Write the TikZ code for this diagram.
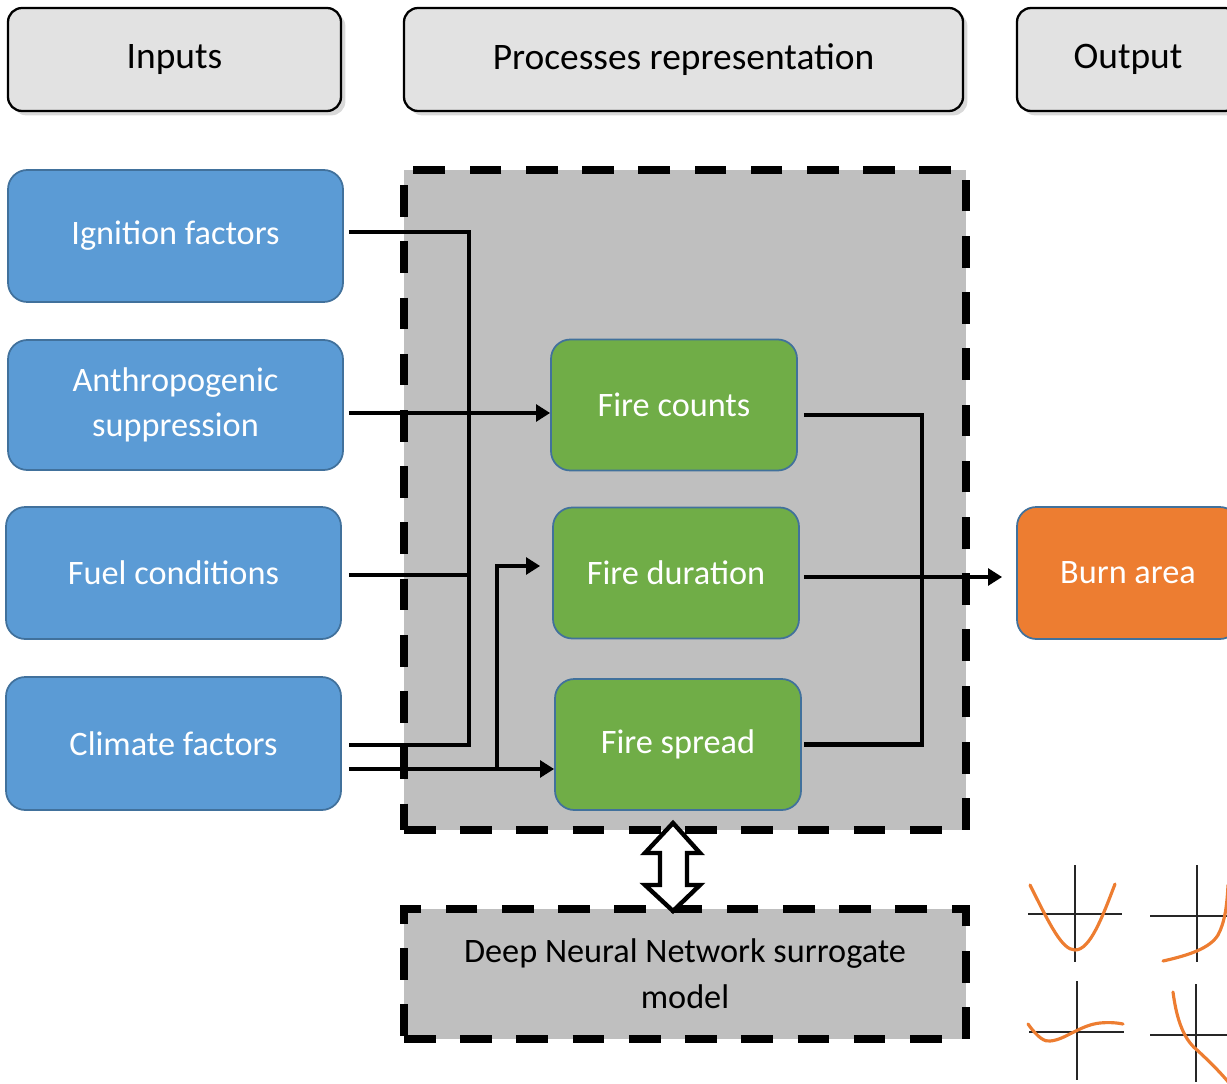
\documentclass[tikz,border=0pt]{standalone}
\usepackage{fontspec}
\setmainfont{Carlito}
\usetikzlibrary{arrows.meta,shadows}
\def\pxu{0.02cm}
\definecolor{inblue}{HTML}{5B9BD5}
\definecolor{edgeblue}{HTML}{41719C}
\definecolor{procgreen}{HTML}{70AD47}
\definecolor{outorange}{HTML}{ED7D31}
\definecolor{headgray}{HTML}{E2E2E2}
\definecolor{boxgray}{HTML}{BFBFBF}
\tikzset{
  header/.style={draw=black, line width=1.3pt, fill=headgray, rounded corners=8pt,
    drop shadow={opacity=0.3, shadow xshift=2.5pt, shadow yshift=-2.5pt},
    font=\fontsize{21.3}{25}\selectfont, text=black, minimum height=103*\pxu},
  inbox/.style={draw=edgeblue, line width=1pt, fill=inblue, rounded corners=11pt,
    font=\fontsize{19.5}{26}\selectfont, text=white, align=center},
  procbox/.style={draw=edgeblue, line width=1pt, fill=procgreen, rounded corners=11pt,
    font=\fontsize{19.5}{26}\selectfont, text=white, align=center,
    minimum width=246*\pxu, minimum height=131*\pxu},
  dashbox/.style={draw=black, line width=4pt, dash pattern=on 18pt off 14pt, fill=boxgray},
  conn/.style={draw=black, line width=2.8pt, line join=miter},
  arr/.style={conn, -{Triangle[length=8pt,width=9.5pt]}},
  axis/.style={draw=black!85, line width=1pt},
  curve/.style={draw=outorange, line width=1.8pt, line cap=round},
}
\begin{document}
\begin{tikzpicture}[x=0.02cm, y=-0.02cm]
\useasboundingbox (0,0) rectangle (1227,1084);
\clip (0,0) rectangle (1227,1084);

% header boxes
\node[header, minimum width=333*\pxu] (hin) at (174.5,59.5) {Inputs};
\node[header, minimum width=559*\pxu] (hproc) at (683.5,59.5) {Processes representation};
\node[header, minimum width=222*\pxu] (hout) at (1128,59.5) {Output};

% big dashed process box
\node[dashbox, minimum width=562*\pxu, minimum height=660*\pxu] (proc) at (685,500) {};
% surrogate box
\node[dashbox, minimum width=562*\pxu, minimum height=130*\pxu,
  font=\fontsize{19.5}{26}\selectfont, align=center, text=black] (dnn) at (685,974)
  {Deep Neural Network surrogate\\model};

% input boxes
\node[inbox, minimum width=335*\pxu, minimum height=132*\pxu] (ign) at (175.5,236) {Ignition factors};
\node[inbox, minimum width=335*\pxu, minimum height=130*\pxu] (anth) at (175.5,405) {Anthropogenic\\suppression};
\node[inbox, minimum width=335*\pxu, minimum height=132*\pxu] (fuel) at (173.5,573) {Fuel conditions};
\node[inbox, minimum width=335*\pxu, minimum height=133*\pxu] (cli) at (173.5,743.5) {Climate factors};

% process boxes
\node[procbox] (fc) at (674,405) {Fire counts};
\node[procbox] (fd) at (676,573) {Fire duration};
\node[procbox] (fs) at (678,744.5) {Fire spread};

% output box
\node[inbox, fill=outorange, minimum width=222*\pxu, minimum height=132*\pxu] (burn) at (1128,573) {Burn area};

% connector helper coordinates
\coordinate (bus) at (469,0);
\coordinate (br) at (497,0);
\coordinate (rb) at (922,0);
\coordinate (i1) at ([xshift=5*\pxu,yshift=4*\pxu]ign.east);
\coordinate (a1) at ([xshift=5*\pxu,yshift=-8*\pxu]anth.east);
\coordinate (f1) at ([xshift=7*\pxu,yshift=-2*\pxu]fuel.east);
\coordinate (c1) at ([xshift=7*\pxu,yshift=-1.5*\pxu]cli.east);
\coordinate (c2) at ([xshift=7*\pxu,yshift=-25.5*\pxu]cli.east);
\coordinate (d1) at ([xshift=-12*\pxu,yshift=7*\pxu]fd.west);

% left connectors
\draw[conn] (i1) -| (bus |- c1) -- (c1);
\draw[conn] (f1) -- (bus |- f1);
\draw[arr] (a1) -- (a1 -| fc.west);
\draw[arr] (c2) -- (c2 -| fs.west);
\draw[arr] (br |- c2) |- (d1);

% right connectors
\draw[conn] ([xshift=6*\pxu,yshift=-10*\pxu]fc.east) -| (rb |- fs.east) -- ([xshift=2*\pxu]fs.east);
\draw[arr] ([xshift=4*\pxu,yshift=-4*\pxu]fd.east) -- ([xshift=-14*\pxu,yshift=-4*\pxu]burn.west);

% double block arrow between process box and surrogate
\draw[draw=black, fill=white, line width=2.5pt, line join=miter]
  (673,823) -- (700,853) -- (687,853) -- (687,885) -- (700,885) -- (673,911)
  -- (645,885) -- (660,885) -- (660,853) -- (645,853) -- cycle;

% small function plots
\draw[axis] (1028,914) -- (1122,914);
\draw[axis] (1075,865) -- (1075,962);
\draw[curve] (1030,885) .. controls (1050,925) and (1062,950) .. (1075,950)
  .. controls (1090,950) and (1102,918) .. (1115,884);

\draw[axis] (1150,916) -- (1240,916);
\draw[axis] (1197,865) -- (1197,962);
\draw[curve] (1163,961) .. controls (1190,955) and (1210,948) .. (1218,935)
  .. controls (1225,922) and (1227,905) .. (1228,885);

\draw[axis] (1029,1032) -- (1124,1032);
\draw[axis] (1077,981) -- (1077,1080);
\draw[curve] (1028,1024) .. controls (1038,1038) and (1045,1042) .. (1050,1041)
  .. controls (1065,1040) and (1080,1025) .. (1100,1023)
  .. controls (1110,1022) and (1118,1023) .. (1123,1024);

\draw[axis] (1150,1035) -- (1240,1035);
\draw[axis] (1196,984) -- (1196,1082);
\draw[curve] (1173,992) .. controls (1176,1015) and (1182,1038) .. (1197,1050)
  .. controls (1210,1062) and (1220,1072) .. (1230,1084);
\end{tikzpicture}
\end{document}
